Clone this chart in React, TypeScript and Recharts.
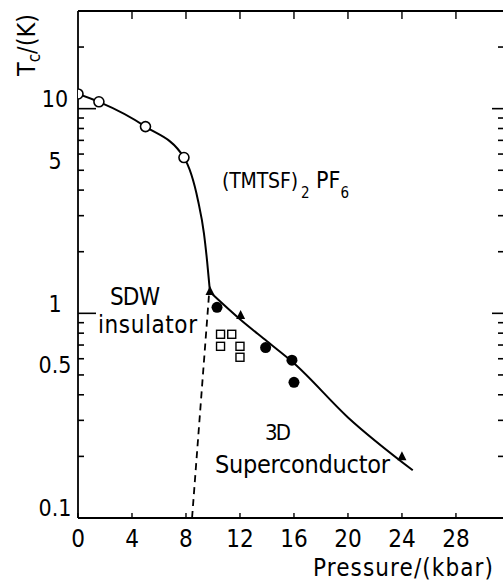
import { ComposedChart, Line, Scatter, XAxis, YAxis } from 'recharts';

const FONT = "'DejaVu Sans Condensed', 'DejaVu Sans', sans-serif";

// axis ticks
const xTicks = [0, 4, 8, 12, 16, 20, 24, 28];
const yTicks = [0.1, 0.2, 0.3, 0.4, 0.5, 0.6, 0.7, 0.8, 0.9, 1, 2, 3, 4, 5, 6, 7, 8, 9, 10, 20];
const yLabels = [0.1, 0.5, 1, 5, 10];
const yMajor = [1, 10];

// open circles - SDW transition
const sdwP = [0, 1.55, 5.0, 7.85];
const sdwT = [11.8, 10.8, 8.17, 5.77];

// filled circles - superconducting Tc
const scDotP = [10.3, 13.9, 15.85, 16.0];
const scDotT = [1.07, 0.68, 0.59, 0.46];

// filled triangles
const triP = [9.78, 12.05, 24.0];
const triT = [1.27, 0.97, 0.198];

// open squares
const sqP = [10.56, 11.39, 10.56, 12.0, 12.0];
const sqT = [0.79, 0.79, 0.69, 0.69, 0.61];

// solid phase boundary, SDW side
const sdwLineP = [0, 1.55, 5.0, 7.85, 8.89, 9.33, 9.56, 9.78];
const sdwLineT = [11.8, 10.8, 8.17, 5.77, 3.56, 2.46, 1.81, 1.27];

// solid phase boundary, superconducting side
const scLineP = [9.78, 12, 14, 16, 20, 24.8];
const scLineT = [1.27, 0.935, 0.73, 0.57, 0.31, 0.171];

// dashed SDW / SC boundary
const dashP = [9.7, 8.45];
const dashT = [1.22, 0.1];

const zip = (p: number[], t: number[]) => p.map((v, i) => ({ p: v, t: t[i] }));

const X_DOMAIN: [number, number] = [0, 31.56];
const Y_DOMAIN: [number, number] = [0.1, 30];

const LeftTick = (props: any) => {
  const { x, y, payload } = props;
  const v = payload.value;
  const len = yMajor.includes(v) ? 18 : 6;
  return (
    <g>
      <line x1={x} y1={y} x2={x + len} y2={y} stroke="#000" strokeWidth={1.6} />
      {yLabels.includes(v) && (
        <text x={x - 23} y={y - 10} dy="0.36em" textAnchor="middle" fontFamily={FONT} fontSize={23} fill="#000">
          {v}
        </text>
      )}
    </g>
  );
};

const RightTick = (props: any) => {
  const { x, y, payload } = props;
  const len = yMajor.includes(payload.value) ? 12 : 6;
  return <line x1={x} y1={y} x2={x - len} y2={y} stroke="#000" strokeWidth={1.6} />;
};

const BottomTick = (props: any) => {
  const { x, y, payload } = props;
  return (
    <g>
      <line x1={x} y1={y} x2={x} y2={y - 5} stroke="#000" strokeWidth={1.4} />
      <text x={x} y={y + 29} textAnchor="middle" fontFamily={FONT} fontSize={24} fill="#000">
        {payload.value}
      </text>
    </g>
  );
};

const TopTick = (props: any) => {
  const { x, y } = props;
  return <line x1={x} y1={y} x2={x} y2={y + 8} stroke="#000" strokeWidth={1.4} />;
};

const OpenCircle = (props: any) => (
  <circle cx={props.cx} cy={props.cy} r={5} fill="#fff" stroke="#000" strokeWidth={1.6} />
);
const FilledCircle = (props: any) => <circle cx={props.cx} cy={props.cy} r={5.5} fill="#000" />;
const Triangle = (props: any) => {
  const { cx, cy } = props;
  return <polygon points={`${cx},${cy - 6} ${cx - 4.5},${cy + 3} ${cx + 4.5},${cy + 3}`} fill="#000" />;
};
const OpenSquare = (props: any) => (
  <rect x={props.cx - 4} y={props.cy - 4} width={8} height={8} fill="#fff" stroke="#000" strokeWidth={1.4} />
);

export default function App() {
  return (
    <div style={{ position: 'absolute', left: 0, top: 0, width: 503, height: 581, overflow: 'hidden', background: '#fff' }}>
      <ComposedChart width={508} height={581} margin={{ top: 0, right: 0, bottom: 0, left: 0 }}>
        <XAxis
          xAxisId="bottom"
          dataKey="p"
          type="number"
          domain={X_DOMAIN}
          allowDataOverflow
          ticks={xTicks}
          interval={0}
          height={63}
          tickSize={0}
          tickMargin={0}
          tickLine={false}
          tick={<BottomTick />}
          axisLine={{ stroke: '#000', strokeWidth: 1.8 }}
        />
        <XAxis
          xAxisId="top"
          orientation="top"
          dataKey="p"
          type="number"
          domain={X_DOMAIN}
          allowDataOverflow
          ticks={xTicks.slice(1)}
          interval={0}
          height={11}
          tickSize={0}
          tickMargin={0}
          tickLine={false}
          tick={<TopTick />}
          axisLine={{ stroke: '#000', strokeWidth: 1.8 }}
        />
        <YAxis
          yAxisId="left"
          dataKey="t"
          scale="log"
          type="number"
          domain={Y_DOMAIN}
          allowDataOverflow
          ticks={yTicks}
          interval={0}
          width={78}
          tickSize={0}
          tickMargin={0}
          tickLine={false}
          tick={<LeftTick />}
          axisLine={{ stroke: '#000', strokeWidth: 1.8 }}
        />
        <YAxis
          yAxisId="right"
          orientation="right"
          scale="log"
          type="number"
          domain={Y_DOMAIN}
          allowDataOverflow
          ticks={yTicks}
          interval={0}
          width={4}
          tickSize={0}
          tickMargin={0}
          tickLine={false}
          tick={<RightTick />}
          axisLine={{ stroke: '#000', strokeWidth: 1.8 }}
        />

        <Line xAxisId="bottom" yAxisId="left" data={zip(sdwLineP, sdwLineT)} dataKey="t" type="monotone"
          stroke="#000" strokeWidth={2} dot={false} isAnimationActive={false} />
        <Line xAxisId="bottom" yAxisId="left" data={zip(scLineP, scLineT)} dataKey="t" type="monotone"
          stroke="#000" strokeWidth={2} dot={false} isAnimationActive={false} />
        <Line xAxisId="bottom" yAxisId="left" data={zip(dashP, dashT)} dataKey="t" type="linear"
          stroke="#000" strokeWidth={1.8} strokeDasharray="7 5" dot={false} isAnimationActive={false} />

        <Scatter xAxisId="bottom" yAxisId="left" data={zip(sdwP, sdwT)} dataKey="t" shape={OpenCircle} isAnimationActive={false} />
        <Scatter xAxisId="bottom" yAxisId="left" data={zip(scDotP, scDotT)} dataKey="t" shape={FilledCircle} isAnimationActive={false} />
        <Scatter xAxisId="bottom" yAxisId="left" data={zip(triP, triT)} dataKey="t" shape={Triangle} isAnimationActive={false} />
        <Scatter xAxisId="bottom" yAxisId="left" data={zip(sqP, sqT)} dataKey="t" shape={OpenSquare} isAnimationActive={false} />
      </ComposedChart>

      <svg width={503} height={581} style={{ position: 'absolute', left: 0, top: 0, pointerEvents: 'none' }}>
        <g fontFamily={FONT} fill="#000">
          <text transform="rotate(-90, 35, 45)" x={35} y={45} textAnchor="middle" fontSize={25}>
            T<tspan dy={5} fontSize={17}>c</tspan><tspan dy={-5}>/(K)</tspan>
          </text>
          <text x={222} y={188} fontSize={21} textLength={76} lengthAdjust="spacing">(TMTSF)</text>
          <text x={301} y={198} fontSize={15}>2</text>
          <text x={316} y={188} fontSize={23}>
            PF<tspan dy={10} fontSize={15}>6</tspan>
          </text>
          <text x={110} y={305} fontSize={24} textLength={50} lengthAdjust="spacing">SDW</text>
          <text x={98} y={333} fontSize={24} textLength={99} lengthAdjust="spacing">insulator</text>
          <text x={265} y={440} fontSize={22} textLength={26} lengthAdjust="spacing">3D</text>
          <text x={215} y={473} fontSize={25} textLength={175} lengthAdjust="spacing">Superconductor</text>
          <text x={313} y={576} fontSize={24} textLength={180} lengthAdjust="spacing">Pressure/(kbar)</text>
        </g>
      </svg>
    </div>
  );
}
